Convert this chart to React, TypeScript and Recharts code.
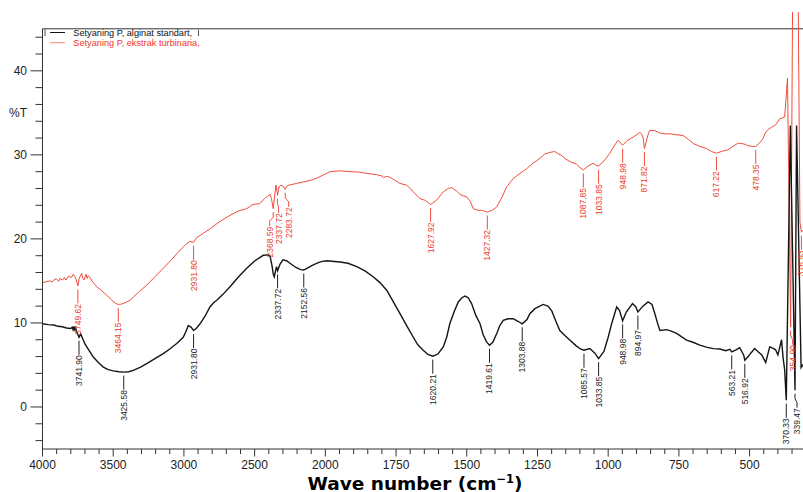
import React from 'react';
import { ComposedChart, Line, Scatter, XAxis, YAxis, ReferenceLine } from 'recharts';

// ---------- data ----------
const seriesNames = ['Setyaning P, alginat standart,', 'Setyaning P, ekstrak turbinaria,'];

const blackWavenumbers = [
  4000, 3960, 3920, 3890, 3860, 3830, 3800, 3790, 3784, 3778, 3772, 3766, 3760, 3741.9, 3730, 3715, 3700,
  3670, 3641, 3605, 3570, 3535, 3499, 3460, 3425.58, 3390, 3358, 3310, 3263, 3205, 3146, 3100, 3051, 3005,
  2985, 2969, 2950, 2931.8, 2910, 2886, 2851, 2816, 2790, 2768, 2724, 2674, 2618, 2556, 2498, 2439, 2404,
  2390, 2377, 2368, 2361, 2352, 2345, 2337.72, 2320, 2300, 2275, 2250, 2208, 2175, 2152.56, 2130, 2100,
  2062, 2030, 1995, 1948, 1920, 1889, 1860, 1831, 1807, 1783, 1761, 1736, 1713, 1689, 1673, 1654, 1637,
  1620.21, 1602, 1583, 1571, 1560, 1545, 1530, 1517, 1506, 1495, 1483, 1468, 1453, 1442, 1430, 1419.61,
  1408, 1394, 1383, 1371, 1354, 1336, 1319, 1303.88, 1287, 1277, 1259, 1230, 1213, 1199, 1185, 1171, 1153,
  1135, 1114, 1098, 1085.57, 1065, 1047, 1033.85, 1015, 1000, 987, 970, 960, 948.98, 936, 914, 902, 894.97,
  877, 859, 845, 835, 824, 817, 793, 775, 758, 723, 700, 676, 650, 628, 605, 584, 570, 563.21, 548, 535,
  521, 516.92, 505, 496, 482, 471, 457, 443, 429, 418, 408, 400, 387, 382, 376, 370.33, 356, 339.47, 334,
  318, 300,
];
const blackTransmittance = [
  9.9, 9.8, 9.75, 9.6, 9.55, 9.4, 9.35, 9.5, 9.2, 9.6, 9.1, 9.5, 9.0, 8.3, 8.7, 8.1, 7.5,
  6.7, 5.95, 5.3, 4.75, 4.45, 4.3, 4.2, 4.15, 4.2, 4.35, 4.7, 5.15, 5.75, 6.35, 6.9, 7.55, 8.3,
  9.0, 9.7, 9.5, 9.1, 9.4, 9.9, 10.8, 11.9, 12.4, 12.7, 13.4, 14.3, 15.4, 16.5, 17.4, 18.05, 18.1,
  17.9, 16.8, 15.8, 15.5, 16.2, 16.7, 16.2, 17.0, 17.5, 17.4, 17.1, 16.6, 16.35, 16.3, 16.5, 16.8,
  17.1, 17.3, 17.4, 17.25, 17.1, 16.7, 16.2, 15.5, 14.8, 13.9, 12.6, 11.1, 9.7, 8.3, 7.4, 6.75, 6.25,
  6.05, 6.3, 7.15, 8.3, 9.9, 11.3, 12.5, 13.0, 13.2, 13.0, 12.3, 10.9, 9.9, 8.6, 7.75, 7.35,
  7.7, 8.75, 9.7, 10.3, 10.5, 10.5, 10.2, 9.9, 10.4, 11.1, 11.7, 12.2, 12.0, 11.4, 10.2, 9.1, 8.5,
  7.95, 7.3, 6.9, 6.75, 6.95, 6.4, 5.75, 6.6, 8.3, 10.0, 11.9, 11.5, 10.25, 11.3, 12.3, 11.9, 11.3,
  12.0, 12.5, 12.2, 11.1, 9.8, 9.1, 9.2, 9.0, 8.75, 7.95, 7.7, 7.35, 7.1, 6.95, 6.9, 6.7, 6.85, 6.55, 6.8, 7.05,
  6.2, 5.55, 6.0, 6.4, 6.95, 6.6, 6.2, 5.3, 7.15, 7.0, 6.8, 6.2, 8.0, 6.0, 4.4, 0.8, 33.5, 2.0, 33.5,
  4.7, 5.6,
];

const redWavenumbers = [
  4000, 3975, 3950, 3930, 3915, 3900, 3885, 3876, 3860, 3845, 3834, 3820, 3806, 3795, 3782, 3770, 3763,
  3749.62, 3740, 3723, 3715, 3707, 3692, 3685, 3678, 3664, 3650, 3630, 3617, 3586, 3546, 3509, 3485,
  3464.15, 3440, 3417, 3381, 3325, 3263, 3205, 3146, 3084, 3028, 2980, 2957, 2931.8, 2908, 2886, 2851,
  2816, 2768, 2724, 2674, 2618, 2556, 2512, 2463, 2430, 2415, 2392, 2381, 2368.59, 2356, 2349, 2337.72,
  2328, 2314, 2293, 2283.72, 2270, 2258, 2203, 2151, 2097, 2052, 2003, 1984, 1950, 1913, 1880, 1854, 1819,
  1800, 1795, 1783, 1770, 1755, 1736, 1713, 1700, 1689, 1666, 1648, 1640, 1627.92, 1607, 1583, 1565, 1553,
  1545, 1536, 1524, 1510, 1500, 1488, 1477, 1460, 1447, 1438, 1427.32, 1410, 1394, 1375, 1359, 1335, 1312,
  1290, 1270, 1241, 1224, 1205, 1189, 1175, 1164, 1150, 1135, 1112, 1100, 1087.85, 1070, 1053, 1045,
  1033.85, 1012, 994, 980, 965, 948.98, 933, 912, 895, 888, 880, 876, 871.82, 866, 860, 853, 835, 818, 800,
  782, 760, 735, 715, 699, 675, 652, 635, 617.22, 600, 577, 555, 540, 520, 506, 490, 478.35, 465, 453, 445,
  435, 422, 407, 393, 376, 366, 354.9, 346, 331, 322, 316.93, 300,
];
const redTransmittance = [
  14.8, 14.9, 15.0, 14.9, 15.2, 15.2, 14.95, 15.3, 15.1, 15.4, 15.1, 15.5, 15.5, 15.4, 15.8, 15.5, 15.2,
  14.4, 15.3, 15.9, 15.3, 15.1, 15.8, 15.3, 15.6, 15.4, 15.0, 14.6, 14.3, 13.9, 13.3, 12.7, 12.35,
  12.2, 12.25, 12.4, 12.7, 13.6, 14.5, 15.5, 16.5, 17.6, 18.65, 19.45, 19.7, 19.6, 20.2, 20.4, 20.8,
  21.2, 21.8, 22.3, 22.8, 23.3, 23.6, 24.1, 24.2, 24.8, 25.0, 25.3, 24.8, 23.6, 25.5, 26.4, 25.2,
  26.2, 26.4, 26.2, 25.9, 26.3, 26.4, 26.6, 26.8, 27.0, 27.3, 27.7, 28.0, 28.1, 28.0, 27.95, 27.8, 27.65,
  27.5, 27.3, 27.45, 27.3, 27.0, 26.6, 26.4, 26.0, 25.6, 24.8, 24.6, 24.4, 24.1, 24.6, 25.6, 26.0, 26.1,
  25.9, 25.7, 25.3, 25.1, 25.0, 24.5, 23.6, 23.4, 23.4, 23.3, 23.2, 23.4, 23.8, 25.0, 26.2, 27.2, 27.8,
  28.3, 28.9, 29.6, 30.1, 30.3, 30.4, 30.1, 29.9, 29.5, 29.2, 28.9, 28.5, 28.2, 28.7, 29.0, 28.8,
  28.65, 29.4, 30.2, 31.0, 31.75, 31.15, 31.7, 32.1, 32.5, 32.7, 32.4, 31.9, 30.75, 31.5, 32.3, 32.9, 32.9, 32.6, 32.5,
  32.5, 32.4, 32.3, 31.8, 31.35, 31.0, 30.75, 30.4, 30.2, 30.4, 30.6, 31.1, 31.4, 31.3, 31.1, 31.0, 31.0, 31.4, 31.9, 32.6,
  33.0, 33.3, 33.6, 34.3, 34.5, 39.1, 9.5, 60, 60, 22.0, 20.8, 21.5,
];

const blackPeakLabels = [
  3741.9, 3425.58, 2931.8, 2337.72, 2152.56, 1620.21, 1419.61, 1303.88, 1085.57, 1033.85, 948.98,
  894.97, 563.21, 516.92, 370.33, 339.47,
];
const redPeakLabels = [
  3749.62, 3464.15, 2931.8, 2368.59, 2337.72, 2283.72, 1627.92, 1427.32, 1087.85, 1033.85, 948.98,
  871.82, 617.22, 478.35, 354.9, 316.93,
];

const xTickLabels = [4000, 3500, 3000, 2500, 2000, 1750, 1500, 1250, 1000, 750, 500];
const yTickLabels = [0, 10, 20, 30, 40];

// ---------- split (compressed above 2000 cm-1) wavenumber axis ----------
const toU = (wn: number) => (wn >= 2000 ? (4000 - wn) / 2 : 1000 + (2000 - wn));
const fromU = (u: number) => (u <= 1000 ? 4000 - 2 * u : 2000 - (u - 1000));
const U_END = toU(290);

const buildSeries = (wns: number[], vals: number[]) => wns.map((wn, i) => ({ u: toU(wn), wn, v: vals[i] }));
const blackData = buildSeries(blackWavenumbers, blackTransmittance);
const redData = buildSeries(redWavenumbers, redTransmittance);

// leader-line sideways nudges (px) for crowded labels
const labelShift: Record<string, number> = {
  'red:2368.59': -3.5,
  'red:2337.72': 1,
  'red:2283.72': 3.5,
  'red:354.90': 2,
  'black:339.47': 2,
};

const buildPeaks = (labels: number[], series: { u: number; wn: number; v: number }[], key: string) =>
  labels.map((wn) => {
    let best = series[0];
    for (const p of series) if (Math.abs(p.wn - wn) < Math.abs(best.wn - wn)) best = p;
    const text = wn.toFixed(2);
    return { u: toU(wn), v: best.v, text, dx: labelShift[`${key}:${text}`] ?? 0 };
  });
const blackPeaks = buildPeaks(blackPeakLabels, blackData, 'black');
const redPeaks = buildPeaks(redPeakLabels, redData, 'red');

const xTicks: number[] = [];
for (let wn = 4000; wn >= 2000; wn -= 100) xTicks.push(toU(wn));
for (let wn = 1950; wn >= 300; wn -= 50) xTicks.push(toU(wn));
const yTicks: number[] = [];
for (let t = -4; t <= 44; t += 2) yTicks.push(t);

// ---------- styles ----------
const FONT = "'Liberation Sans', Arial, Helvetica, sans-serif";
const AXIS = '#333333';
const BLACK = '#151515';
const RED = '#f04c3b';
const RED_TEXT = '#ea3b2b';

const XTick = (props: any) => {
  const { x, y, payload } = props;
  const wn = Math.round(fromU(payload.value));
  const major = xTickLabels.includes(wn);
  return (
    <g>
      <line x1={x} x2={x} y1={y} y2={y + (major ? 7.5 : 5)} stroke={AXIS} strokeWidth={1} />
      {major && (
        <text x={x} y={y + 20.3} textAnchor="middle" fontSize={12} fontFamily={FONT} fill="#222">
          {wn}
        </text>
      )}
    </g>
  );
};

const YTick = (props: any) => {
  const { x, y, payload } = props;
  const major = yTickLabels.includes(payload.value);
  return (
    <g>
      <line x1={x - (major ? 12 : 7)} x2={x} y1={y} y2={y} stroke={AXIS} strokeWidth={1} />
      {major && (
        <text x={x - 15.5} y={y + 4.3} textAnchor="end" fontSize={12} fontFamily={FONT} fill="#222">
          {payload.value}
        </text>
      )}
    </g>
  );
};

const makePeakShape = (lineColor: string, textColor: string) => (props: any) => {
  const { cx, cy, payload } = props;
  if (cx == null || cy == null) return <g />;
  const dx = payload.dx || 0;
  const x2 = cx + dx;
  const top = cy + 3.5;
  const bottom = cy + 17.5;
  const points = dx === 0 ? `${cx},${top} ${cx},${bottom}` : `${cx},${top} ${cx},${top + 5} ${x2},${top + 9} ${x2},${bottom}`;
  return (
    <g>
      <polyline points={points} fill="none" stroke={lineColor} strokeWidth={1} />
      <text
        x={x2}
        y={bottom + 0.5}
        transform={`rotate(-90 ${x2} ${bottom + 0.5})`}
        textAnchor="end"
        dominantBaseline="central"
        fontSize={8.5}
        fontFamily={FONT}
        fill={textColor}
      >
        {payload.text}
      </text>
    </g>
  );
};

const BlackPeak = makePeakShape('#222', '#1c1c1c');
const RedPeak = makePeakShape(RED, RED_TEXT);

export default function App() {
  return (
    <div style={{ position: 'fixed', left: 8, top: 8, width: 795, height: 484, overflow: 'hidden', background: '#fff' }}>
      <ComposedChart width={802} height={484} margin={{ top: 4, right: 1, bottom: 13, left: 0 }}>
        <XAxis
          type="number"
          dataKey="u"
          domain={[0, U_END]}
          allowDataOverflow
          ticks={xTicks}
          interval={0}
          tick={XTick}
          tickLine={false}
          tickSize={0}
          tickMargin={0}
          axisLine={{ stroke: AXIS }}
          height={30}
        />
        <YAxis
          type="number"
          domain={[-5, 47]}
          allowDataOverflow
          ticks={yTicks}
          interval={0}
          tick={YTick}
          tickLine={false}
          tickSize={0}
          tickMargin={0}
          axisLine={false}
          width={34.5}
        />
        <ReferenceLine y={45} stroke={AXIS} strokeWidth={1} />
        <ReferenceLine segment={[{ x: 0, y: -5 }, { x: 0, y: 45 }]} stroke={AXIS} strokeWidth={1} />
        <Line
          data={redData}
          dataKey="v"
          type="linear"
          stroke={RED}
          strokeWidth={1}
          dot={false}
          activeDot={false}
          isAnimationActive={false}
        />
        <Line
          data={blackData}
          dataKey="v"
          type="linear"
          stroke={BLACK}
          strokeWidth={1.4}
          dot={false}
          activeDot={false}
          isAnimationActive={false}
        />
        <Scatter data={blackPeaks} dataKey="v" shape={BlackPeak} isAnimationActive={false} />
        <Scatter data={redPeaks} dataKey="v" shape={RedPeak} isAnimationActive={false} />
      </ComposedChart>
      <svg
        width={795}
        height={484}
        style={{ position: 'absolute', left: 0, top: 0, pointerEvents: 'none' }}
        fontFamily={FONT}
      >
        <line x1={37} x2={37} y1={21} y2={28} stroke="#555" strokeWidth={1} />
        <line x1={42} x2={57} y1={24.5} y2={24.5} stroke={BLACK} strokeWidth={1} />
        <text x={65.3} y={28} fontSize={9.2} fill="#111">{seriesNames[0]}</text>
        <line x1={190.5} x2={190.5} y1={22} y2={28} stroke="#555" strokeWidth={1} />
        <line x1={42} x2={57} y1={34.7} y2={34.7} stroke="#f39a90" strokeWidth={1.2} />
        <text x={65.3} y={38} fontSize={9.2} fill="#f2352a">{seriesNames[1]}</text>
        <text x={1} y={109} fontSize={12} fill="#222">%T</text>
        <text
          x={407}
          y={481.5}
          textAnchor="middle"
          fontSize={18.5}
          fontWeight="bold"
          fontFamily="'DejaVu Sans', Verdana, sans-serif"
          fill="#000"
        >
          Wave number (cm
          <tspan fontSize={11.5} dy={-7}>−1</tspan>
          <tspan dy={7}>)</tspan>
        </text>
      </svg>
    </div>
  );
}
